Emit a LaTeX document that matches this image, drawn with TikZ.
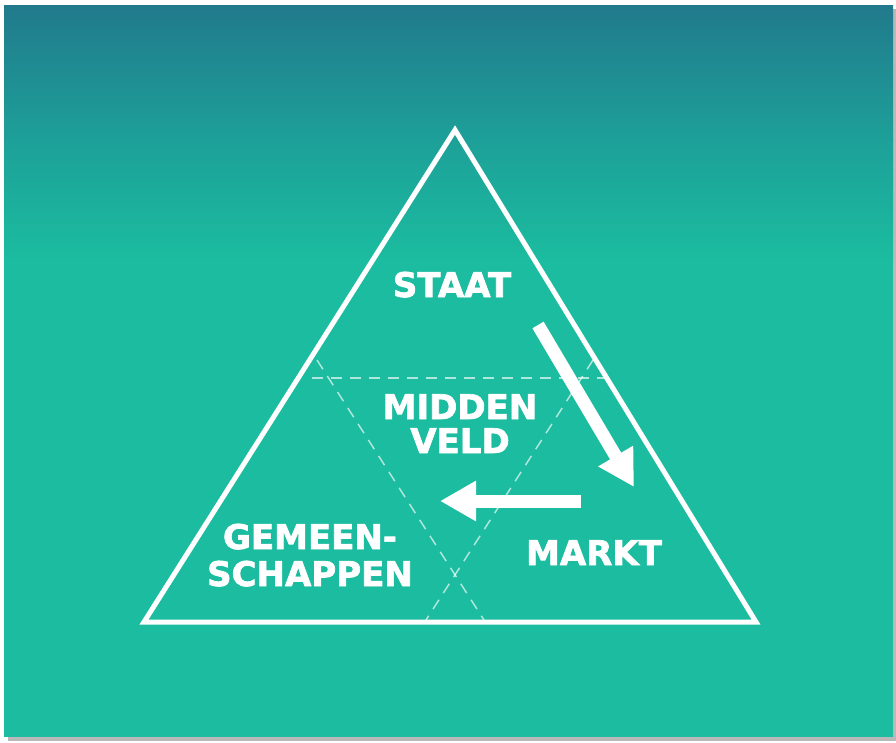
\documentclass[tikz,border=0pt]{standalone}
\usepackage{fontspec}
\setmainfont{DejaVu Sans}
\newfontfamily\heavyfont{DejaVu Sans Bold}[FakeBold=2]
\usetikzlibrary{arrows.meta}
\definecolor{tealtop}{RGB}{33,122,140}
\definecolor{tealmid}{RGB}{29,160,153}
\definecolor{tealbase}{RGB}{27,188,159}
\definecolor{shadowgray}{RGB}{185,185,185}
\begin{document}
\begin{tikzpicture}[x=1pt,y=-1pt,
  lbl/.style={text=white,font=\heavyfont\fontsize{34}{36}\selectfont,inner sep=0pt,anchor=base},
  outline/.style={draw=white,line width=5pt,line join=miter},
  dashln/.style={draw=white,draw opacity=0.65,line width=1.5pt,dash pattern=on 11pt off 8pt},
  bigarrow/.style={draw=white,line width=13pt,-{Triangle[length=36pt 0,width=38pt 0]}}]
\useasboundingbox (0,0) rectangle (896,742);
\fill[white] (0,0) rectangle (896,742);
\fill[shadowgray] (8,9) rectangle (896,741);
\shade[top color=tealtop,bottom color=tealmid] (4,5) rectangle (893,140);
\shade[top color=tealmid,bottom color=tealbase] (4,139) rectangle (893,260);
\fill[tealbase] (4,259) rectangle (893,737);
% outer triangle
\coordinate (apex) at (455,130);
\coordinate (bl) at (144,622);
\coordinate (br) at (756,622);
\draw[outline] (apex) -- (br) -- (bl) -- cycle;
% dashed inner lines
\coordinate (hl) at (312,378);
\coordinate (hr) at (608,378);
\coordinate (dl1) at (317,360);
\coordinate (dl2) at (484,620);
\coordinate (dr1) at (593,360);
\coordinate (dr2) at (426,620);
\draw[dashln] (hl) -- (hr);
\draw[dashln] (dl1) -- (dl2);
\draw[dashln] (dr1) -- (dr2);
% labels
\node[lbl] (staat) at (452,297) {STAAT};
\node[lbl] (midden) at (460,419) {MIDDEN};
\node[lbl] (veld) at (460,453) {VELD};
\node[lbl] (gem) at (310,549) {GEMEEN-};
\node[lbl] (schap) at (310,586) {SCHAPPEN};
\node[lbl] (markt) at (594,565) {MARKT};
% arrows
\coordinate (a1s) at (538,325);
\coordinate (a1e) at (634,487);
\coordinate (a2s) at (581,501);
\coordinate (a2e) at (440,501);
\draw[bigarrow] (a1s) -- (a1e);
\draw[bigarrow] (a2s) -- (a2e);
\end{tikzpicture}
\end{document}
